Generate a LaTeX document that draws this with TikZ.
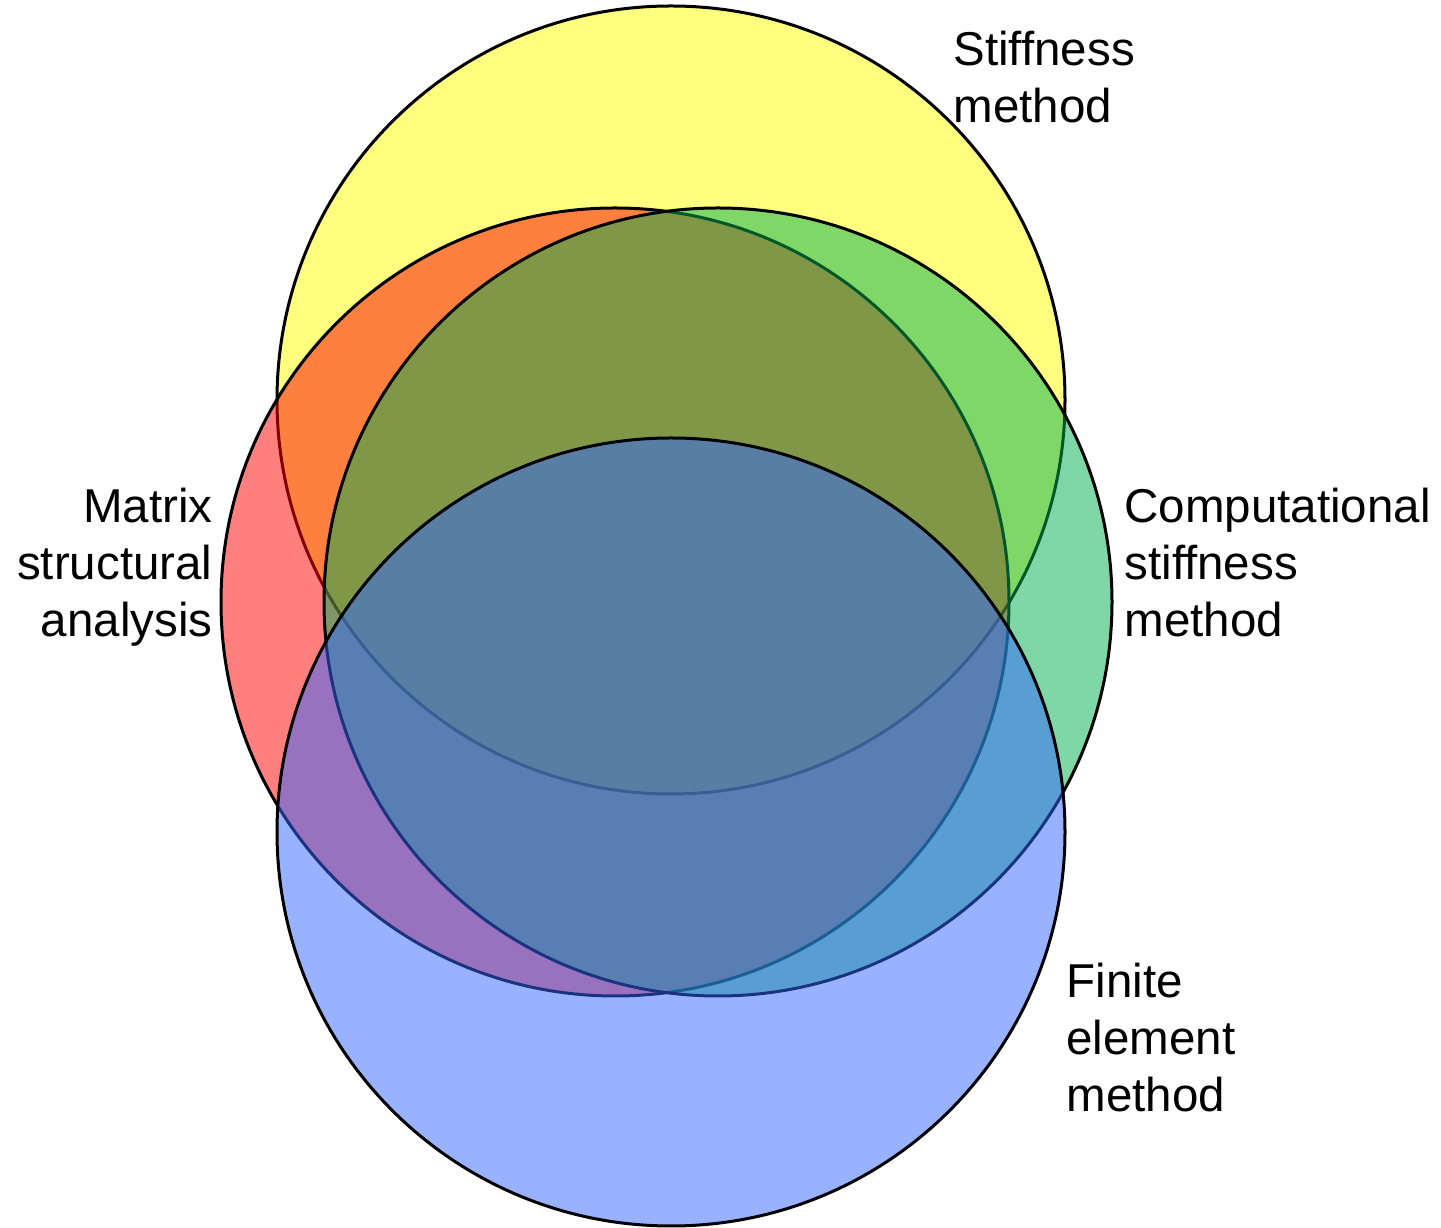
\documentclass[tikz,border=0pt]{standalone}
\usepackage{fontspec}
\setmainfont{Liberation Sans}
\definecolor{stiffcol}{HTML}{FFFF00}
\definecolor{matrixcol}{HTML}{FF0000}
\definecolor{compcol}{HTML}{00B050}
\definecolor{femcol}{HTML}{3366FF}
\tikzset{
  setdisk/.style={draw=black, fill=#1, fill opacity=0.5},
  setlabel/.style={inner sep=0pt, font=\fontsize{23.75bp}{28.5bp}\selectfont},
}
\begin{document}
\begin{tikzpicture}[line join=bevel,scale=0.5]
  \pgfsetlinewidth{1.5bp}
  \useasboundingbox (0bp,0bp) rectangle (1441bp,1228bp);
%%
  % Set: Stiffness method
  \draw [setdisk=stiffcol] (671bp,828bp) circle (394bp);
  % Set: Matrix structural analysis
  \draw [setdisk=matrixcol] (615bp,626bp) circle (394bp);
  % Set: Computational stiffness method
  \draw [setdisk=compcol] (718bp,626bp) circle (394bp);
  % Set: Finite element method
  \draw [setdisk=femcol] (671bp,396bp) circle (394bp);
%%
  % Label: Stiffness method
  \node [setlabel, anchor=base west, align=left] (stiff) at (952bp,1105bp) {Stiffness\\method};
  % Label: Matrix structural analysis
  \node [setlabel, anchor=base east, align=right] (matrix) at (214bp,591bp) {Matrix\\structural\\analysis};
  % Label: Computational stiffness method
  \node [setlabel, anchor=base west, align=left] (comp) at (1123bp,591bp) {Computational\\stiffness\\method};
  % Label: Finite element method
  \node [setlabel, anchor=base west, align=left] (fem) at (1065bp,116bp) {Finite\\element\\method};
%
\end{tikzpicture}
\end{document}
